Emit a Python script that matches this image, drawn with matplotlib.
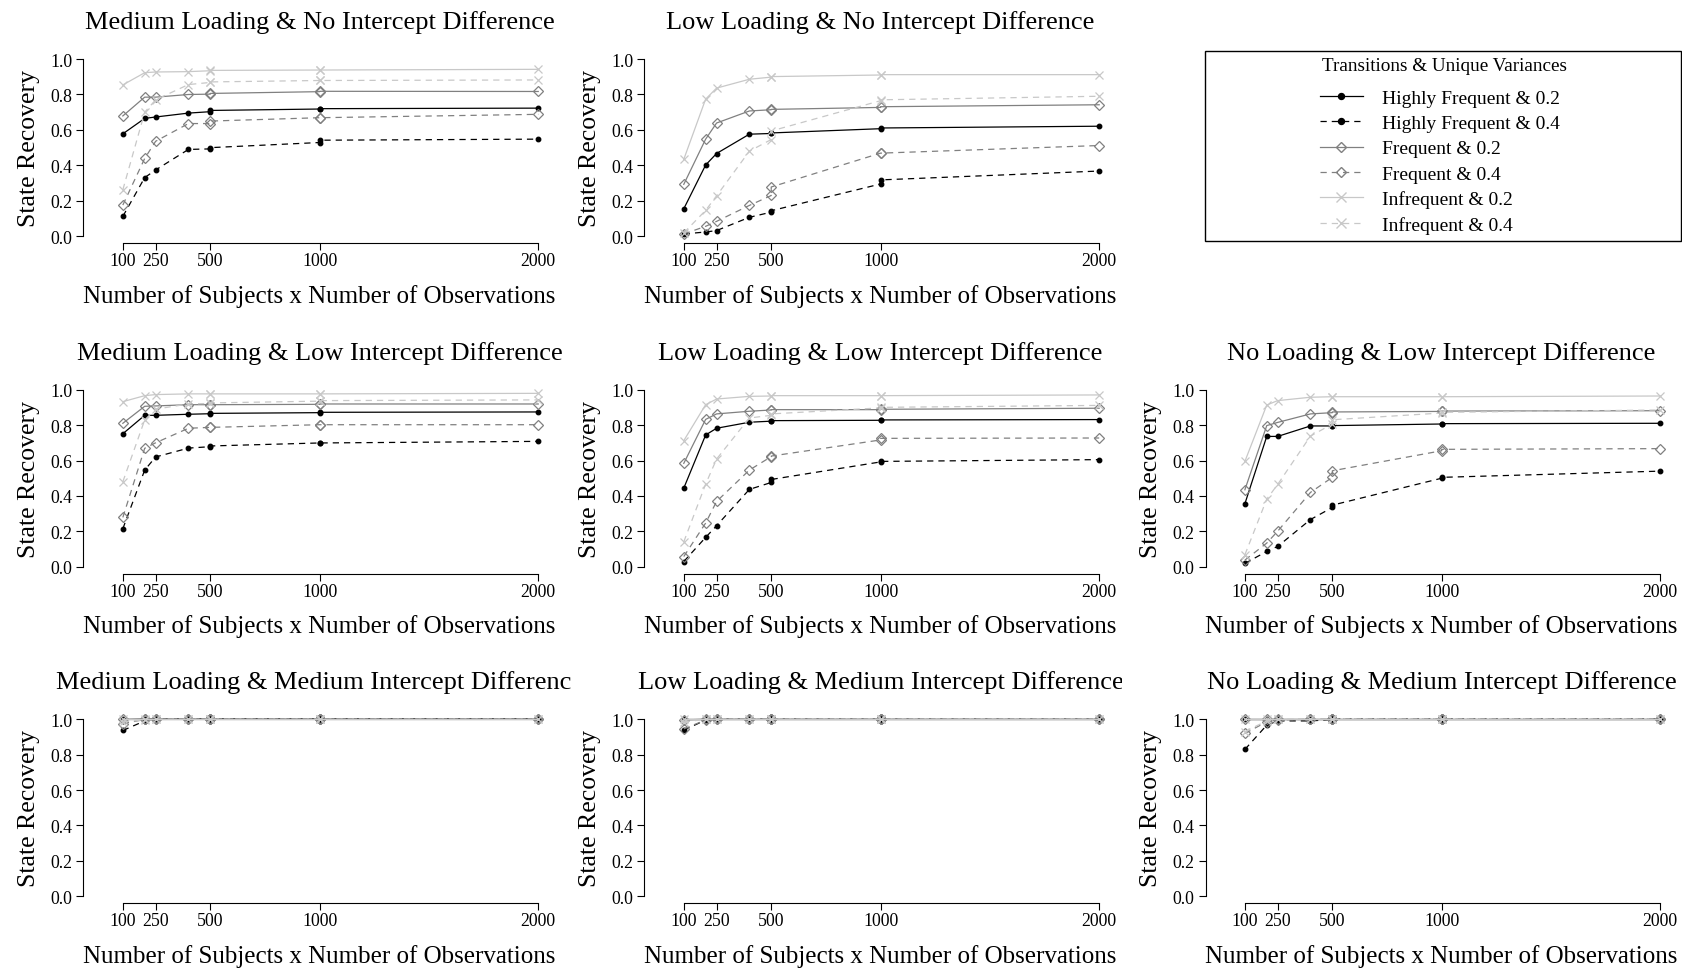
import matplotlib
matplotlib.use("Agg")
import matplotlib.pyplot as plt
from matplotlib.lines import Line2D
from matplotlib.patches import Rectangle
from matplotlib.transforms import Bbox, TransformedBbox

plt.rcParams['font.family'] = ['Liberation Serif', 'DejaVu Serif']

# sample sizes (subjects x observations); 500 and 1000 occur twice
sizes = [100, 200, 250, 400, 500, 500, 1000, 1000, 2000]
tick_sizes = [100, 250, 500, 1000, 2000]

series_names = ["Highly Frequent & 0.2", "Highly Frequent & 0.4",
                "Frequent & 0.2", "Frequent & 0.4",
                "Infrequent & 0.2", "Infrequent & 0.4"]

# rows: HF 0.2, HF 0.4, F 0.2, F 0.4, Inf 0.2, Inf 0.4
med_load_no_int = [
    [0.578, 0.665, 0.673, 0.695, 0.703, 0.710, 0.718, 0.720, 0.723],
    [0.112, 0.331, 0.374, 0.490, 0.493, 0.500, 0.529, 0.542, 0.548],
    [0.679, 0.785, 0.785, 0.800, 0.802, 0.806, 0.816, 0.818, 0.817],
    [0.176, 0.439, 0.536, 0.636, 0.636, 0.650, 0.669, 0.669, 0.688],
    [0.854, 0.923, 0.927, 0.929, 0.934, 0.936, 0.938, 0.938, 0.942],
    [0.262, 0.700, 0.770, 0.856, 0.868, 0.871, 0.879, 0.879, 0.882],
]
low_load_no_int = [
    [0.155, 0.402, 0.467, 0.576, 0.580, 0.583, 0.607, 0.611, 0.621],
    [0.013, 0.024, 0.032, 0.107, 0.136, 0.144, 0.295, 0.318, 0.368],
    [0.293, 0.548, 0.639, 0.707, 0.714, 0.716, 0.727, 0.731, 0.742],
    [0.013, 0.056, 0.084, 0.174, 0.230, 0.278, 0.469, 0.469, 0.512],
    [0.434, 0.774, 0.836, 0.886, 0.898, 0.901, 0.910, 0.912, 0.912],
    [0.019, 0.146, 0.228, 0.480, 0.546, 0.594, 0.765, 0.770, 0.790],
]
med_load_low_int = [
    [0.751, 0.855, 0.855, 0.861, 0.864, 0.866, 0.870, 0.872, 0.874],
    [0.215, 0.546, 0.620, 0.670, 0.678, 0.682, 0.699, 0.699, 0.708],
    [0.810, 0.906, 0.908, 0.915, 0.915, 0.915, 0.917, 0.919, 0.919],
    [0.279, 0.669, 0.700, 0.782, 0.787, 0.787, 0.802, 0.802, 0.802],
    [0.932, 0.966, 0.972, 0.976, 0.976, 0.976, 0.976, 0.976, 0.979],
    [0.480, 0.829, 0.890, 0.919, 0.922, 0.925, 0.935, 0.938, 0.942],
]
low_load_low_int = [
    [0.444, 0.744, 0.782, 0.816, 0.822, 0.825, 0.827, 0.829, 0.831],
    [0.030, 0.166, 0.232, 0.437, 0.476, 0.493, 0.592, 0.595, 0.605],
    [0.584, 0.832, 0.863, 0.878, 0.885, 0.887, 0.887, 0.889, 0.895],
    [0.058, 0.247, 0.369, 0.546, 0.622, 0.625, 0.716, 0.725, 0.727],
    [0.712, 0.915, 0.947, 0.962, 0.964, 0.966, 0.966, 0.966, 0.970],
    [0.141, 0.467, 0.608, 0.840, 0.855, 0.863, 0.897, 0.900, 0.911],
]
no_load_low_int = [
    [0.356, 0.736, 0.736, 0.795, 0.795, 0.797, 0.806, 0.808, 0.810],
    [0.019, 0.087, 0.115, 0.267, 0.335, 0.348, 0.500, 0.505, 0.540],
    [0.435, 0.797, 0.815, 0.863, 0.870, 0.874, 0.877, 0.879, 0.881],
    [0.038, 0.134, 0.201, 0.420, 0.505, 0.542, 0.655, 0.663, 0.667],
    [0.595, 0.913, 0.938, 0.957, 0.960, 0.960, 0.960, 0.960, 0.964],
    [0.068, 0.382, 0.465, 0.738, 0.806, 0.830, 0.868, 0.872, 0.885],
]
med_load_med_int = [
    [0.998, 1.000, 1.000, 1.000, 1.000, 1.000, 1.000, 1.000, 1.000],
    [0.936, 0.990, 0.998, 1.000, 1.000, 1.000, 1.000, 1.000, 1.000],
    [1.000, 1.000, 1.000, 1.000, 1.000, 1.000, 1.000, 1.000, 1.000],
    [0.975, 0.998, 1.000, 1.000, 1.000, 1.000, 1.000, 1.000, 1.000],
    [1.000, 1.000, 1.000, 1.000, 1.000, 1.000, 1.000, 1.000, 1.000],
    [0.985, 0.995, 1.000, 1.000, 1.000, 1.000, 1.000, 1.000, 1.000],
]
low_load_med_int = [
    [1.000, 1.000, 1.000, 1.000, 1.000, 1.000, 1.000, 1.000, 1.000],
    [0.938, 0.995, 1.000, 1.000, 1.000, 1.000, 1.000, 1.000, 1.000],
    [0.995, 1.000, 1.000, 1.000, 1.000, 1.000, 1.000, 1.000, 1.000],
    [0.945, 0.995, 1.000, 1.000, 1.000, 1.000, 1.000, 1.000, 1.000],
    [1.000, 1.000, 1.000, 1.000, 1.000, 1.000, 1.000, 1.000, 1.000],
    [0.985, 0.998, 1.000, 1.000, 1.000, 1.000, 1.000, 1.000, 1.000],
]
no_load_med_int = [
    [1.000, 1.000, 1.000, 1.000, 1.000, 1.000, 1.000, 1.000, 1.000],
    [0.829, 0.966, 0.990, 0.990, 0.998, 1.000, 1.000, 1.000, 1.000],
    [1.000, 1.000, 1.000, 1.000, 1.000, 1.000, 1.000, 1.000, 1.000],
    [0.919, 0.985, 0.995, 1.000, 1.000, 1.000, 1.000, 1.000, 1.000],
    [1.000, 1.000, 1.000, 1.000, 1.000, 1.000, 1.000, 1.000, 1.000],
    [0.930, 0.990, 1.000, 1.000, 1.000, 1.000, 1.000, 1.000, 1.000],
]

panels = [
    (0, 0, "Medium Loading & No Intercept Difference", med_load_no_int),
    (0, 1, "Low Loading & No Intercept Difference", low_load_no_int),
    (1, 0, "Medium Loading & Low Intercept Difference", med_load_low_int),
    (1, 1, "Low Loading & Low Intercept Difference", low_load_low_int),
    (1, 2, "No Loading & Low Intercept Difference", no_load_low_int),
    (2, 0, "Medium Loading & Medium Intercept Difference", med_load_med_int),
    (2, 1, "Low Loading & Medium Intercept Difference", low_load_med_int),
    (2, 2, "No Loading & Medium Intercept Difference", no_load_med_int),
]

# style per series: color, linestyle, marker, markersize
styles = [
    ("black", "-", "o", 3.3),
    ("black", (0, (5, 4)), "o", 3.3),
    ("#808080", "-", "D", 4.6),
    ("#808080", (0, (5, 4)), "D", 4.6),
    ("#c8c8c8", "-", "x", 6),
    ("#c8c8c8", (0, (5, 4)), "x", 6),
]

fig = plt.figure(figsize=(16.83, 9.70), dpi=100)
lefts = [0.0496, 0.3829, 0.7163]
bottoms = [0.7481, 0.4073, 0.0676]
w, h = 0.2806, 0.1973
# right edge of the region that clips each column's title (figure fraction)
clip_right = [572 / 1683, 2 / 3, 1.0]

for row, col, title, data in panels:
    ax = fig.add_axes([lefts[col], bottoms[row], w, h])
    for vals, (c, ls, mk, ms) in zip(data, styles):
        filled = mk == "o"
        ax.plot(sizes, vals, color=c, linestyle=ls, lw=0.9, marker=mk,
                markersize=ms, markerfacecolor=c if filled else "none",
                markeredgecolor=c, markeredgewidth=0.9)
    ax.set_xlim(-80, 2080)
    ax.set_ylim(-0.04, 1.04)
    for s in ["top", "right"]:
        ax.spines[s].set_visible(False)
    ax.spines["left"].set_bounds(0, 1)
    ax.spines["bottom"].set_bounds(100, 2000)
    ax.set_xticks(tick_sizes)
    ax.set_yticks([0, 0.2, 0.4, 0.6, 0.8, 1.0])
    ax.set_yticklabels(["0.0", "0.2", "0.4", "0.6", "0.8", "1.0"])
    ax.tick_params(axis="x", length=5, pad=1.5, labelsize=12.8)
    ax.tick_params(axis="y", length=5, pad=3, labelsize=12.8)
    ax.set_xlabel("Number of Subjects x Number of Observations",
                  fontsize=18, va="center")
    ax.xaxis.set_label_coords(0.5, -0.272)
    ax.set_ylabel("State Recovery", fontsize=18.5, va="center")
    ax.yaxis.set_label_coords(-0.115, 0.5)
    t = ax.set_title(title, fontsize=19, y=1.114, va="center")
    # titles are clipped to the panel's figure region, as in R
    t.set_clip_box(TransformedBbox(
        Bbox([[clip_right[col] - 1 / 3 - 0.01, 0], [clip_right[col], 1]]),
        fig.transFigure))
    t.set_clip_on(True)

# legend panel
fig.add_artist(Rectangle((1205 / 1683, 1 - 242 / 970), 476 / 1683, 190 / 970,
                         transform=fig.transFigure, fill=False,
                         edgecolor="black", lw=1))
fig.text(1445 / 1683, 1 - 66.7 / 970, "Transitions & Unique Variances",
         fontsize=13.8, ha="center", va="center")
handles = []
for c, ls, mk, ms in styles:
    filled = mk == "o"
    handles.append(Line2D([], [], color=c, linestyle=ls, lw=0.9, marker=mk,
                          markersize=ms + 1,
                          markerfacecolor=c if filled else "none",
                          markeredgecolor=c))
fig.legend(handles, series_names,
           loc="center", bbox_to_anchor=(1440 / 1683, 1 - 162.5 / 970),
           frameon=False, fontsize=14, borderpad=0,
           handlelength=2.2, handletextpad=1.0, labelspacing=0.39)

fig.savefig("out.png", dpi=100)
